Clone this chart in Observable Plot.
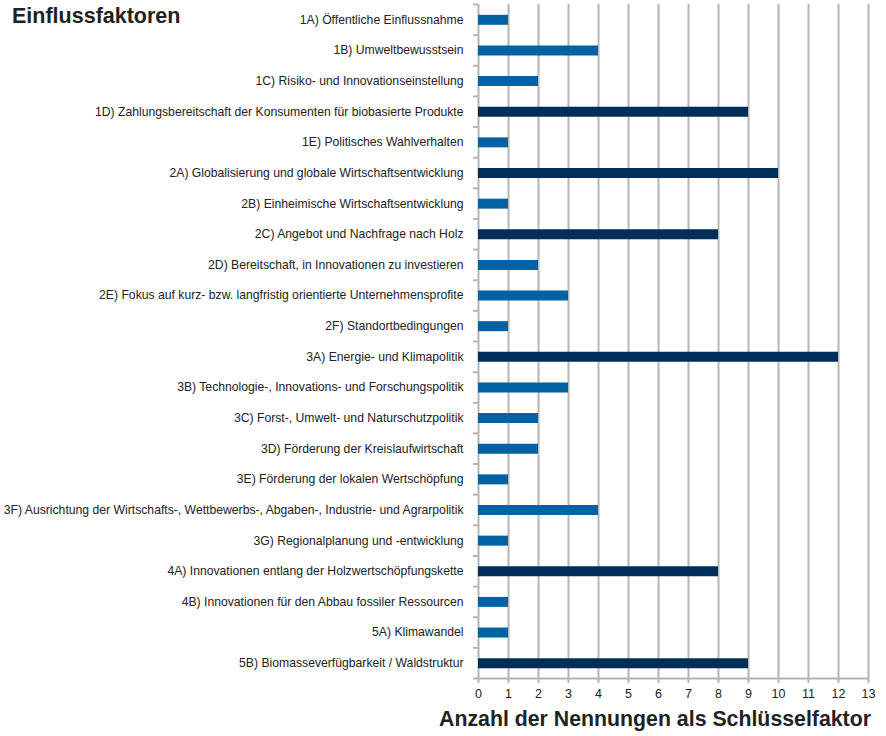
<!DOCTYPE html>
<html><head><meta charset="utf-8">
<script src="https://cdn.jsdelivr.net/npm/d3@7"></script>
<script src="https://cdn.jsdelivr.net/npm/@observablehq/plot@0.6"></script>
<style>
body{margin:0;background:#fff;font-family:"Liberation Sans",Arial,sans-serif;}
#wrap{position:relative;width:886px;height:736px;}
#title{position:absolute;left:12px;top:4px;font-size:21.5px;font-weight:bold;color:#222;}
#xlabel{position:absolute;right:15px;top:707px;font-size:21.3px;font-weight:bold;color:#222;}
</style></head>
<body><div id="wrap"><div id="chart"></div><div id="title">Einflussfaktoren</div><div id="xlabel">Anzahl der Nennungen als Schlüsselfaktor</div></div>
<script>
const categories = [
"1A) Öffentliche Einflussnahme",
"1B) Umweltbewusstsein",
"1C) Risiko- und Innovationseinstellung",
"1D) Zahlungsbereitschaft der Konsumenten für biobasierte Produkte",
"1E) Politisches Wahlverhalten",
"2A) Globalisierung und globale Wirtschaftsentwicklung",
"2B) Einheimische Wirtschaftsentwicklung",
"2C) Angebot und Nachfrage nach Holz",
"2D) Bereitschaft, in Innovationen zu investieren",
"2E) Fokus auf kurz- bzw. langfristig orientierte Unternehmensprofite",
"2F) Standortbedingungen",
"3A) Energie- und Klimapolitik",
"3B) Technologie-, Innovations- und Forschungspolitik",
"3C) Forst-, Umwelt- und Naturschutzpolitik",
"3D) Förderung der Kreislaufwirtschaft",
"3E) Förderung der lokalen Wertschöpfung",
"3F) Ausrichtung der Wirtschafts-, Wettbewerbs-, Abgaben-, Industrie- und Agrarpolitik",
"3G) Regionalplanung und -entwicklung",
"4A) Innovationen entlang der Holzwertschöpfungskette",
"4B) Innovationen für den Abbau fossiler Ressourcen",
"5A) Klimawandel",
"5B) Biomasseverfügbarkeit / Waldstruktur"
];
const values = [1,4,2,9,1,10,1,8,2,3,1,12,3,2,2,1,4,1,8,1,1,9];
const xTicks = [0,1,2,3,4,5,6,7,8,9,10,11,12,13];

const data = categories.map((c,i)=>({cat:c, value:values[i], pos:i+0.5}));
const bounds = d3.range(categories.length+1);
const light = "#0062a3", dark = "#002e5b", gridC = "#b5b5b5";

const chart = Plot.plot({
  width: 886, height: 736,
  marginLeft: 478, marginRight: 18, marginTop: 4, marginBottom: 58,
  style: {fontFamily: '"Liberation Sans", Arial, sans-serif', fontSize: "12px", color: "#222"},
  x: {domain: [0,13], ticks: xTicks},
  y: {domain: [0, categories.length], range: [4, 678]},
  marks: [
    Plot.ruleX(xTicks, {x: d=>d, y1: 0, y2: categories.length, stroke: gridC, strokeWidth: 2}),
    Plot.ruleY([categories.length], {x1: 0, x2: 13, stroke: gridC, strokeWidth: 2}),
    Plot.axisX({ticks: xTicks, tickSize: 5, tickPadding: 6, stroke: gridC, strokeWidth: 2, label: null, fontSize: 12.5, fill: "#222"}),
    Plot.axisY({ticks: bounds, tickSize: 5, tickFormat: () => "", stroke: gridC, strokeWidth: 2, label: null}),
    Plot.ruleY(data, {y: "pos", x1: 0, x2: "value", stroke: d => d.value >= 8 ? dark : light, strokeWidth: 10}),
    Plot.text(data, {y: "pos", x: 0, text: "cat", textAnchor: "end", dx: -15, fill: "#222", fontSize: 12.2})
  ]
});
document.getElementById("chart").appendChild(chart);
</script>
</body></html>
